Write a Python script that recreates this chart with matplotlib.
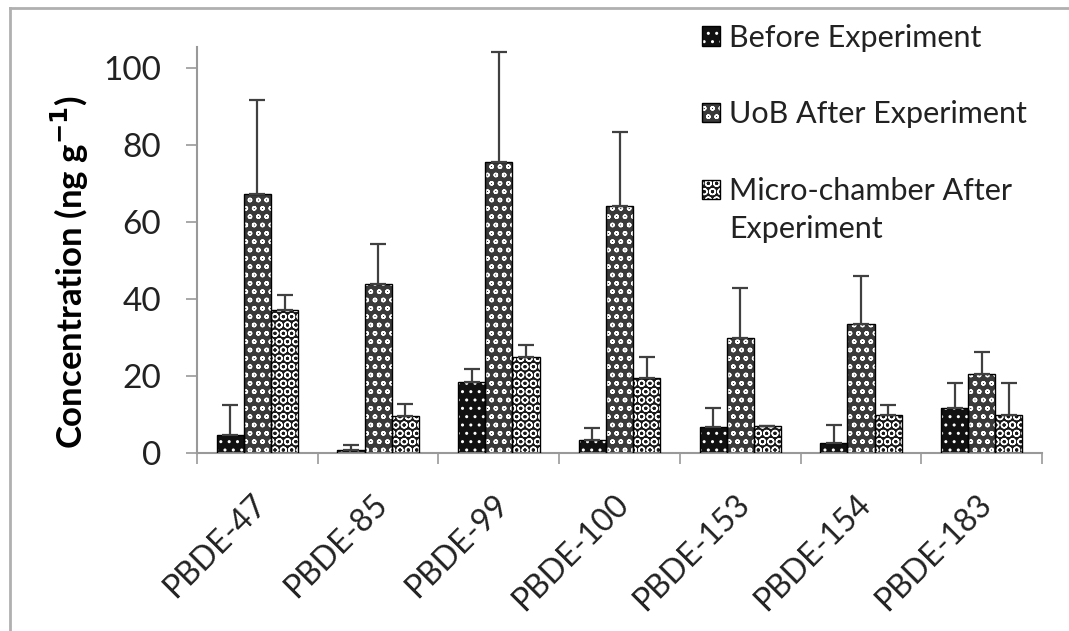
import matplotlib

matplotlib.use("Agg")
import matplotlib.pyplot as plt
import matplotlib.transforms as mtransforms
import numpy as np
from matplotlib.lines import Line2D
from matplotlib.patches import Patch

congeners = ["PBDE-47", "PBDE-85", "PBDE-99", "PBDE-100", "PBDE-153", "PBDE-154", "PBDE-183"]
series = ["Before Experiment", "UoB After Experiment", "Micro-chamber After"]
series_tail = "Experiment"  # second line of the last legend entry

before = [4.7, 0.8, 18.4, 3.5, 6.8, 2.5, 11.6]
before_err = [7.8, 1.2, 3.3, 2.9, 4.8, 4.8, 6.5]
uob = [67.3, 43.9, 75.6, 64.2, 29.8, 33.5, 20.4]
uob_err = [24.4, 10.4, 28.6, 19.1, 13.0, 12.5, 5.8]
micro = [37.1, 9.6, 25.0, 19.6, 7.1, 10.0, 10.0]
micro_err = [3.9, 3.1, 3.1, 5.4, 0.0, 2.6, 8.1]

plt.rcParams["font.family"] = ["Lato", "DejaVu Sans"]
plt.rcParams["hatch.linewidth"] = 1.0

fig = plt.figure(figsize=(10.69, 6.31), dpi=100)
ax = fig.add_axes([0.1843, 0.2821, 0.7905, 0.6434])

x = np.arange(len(congeners))
w = 0.225
styles = [("#111111", ".."), ("#3a3a3a", "oo"), ("#1a1a1a", "OO")]
handles = []
for i, (vals, errs) in enumerate([(before, before_err), (uob, uob_err), (micro, micro_err)]):
    face, hatch = styles[i]
    pos = x + (i - 1) * w
    ax.bar(pos, vals, w, color=face, edgecolor="white", hatch=hatch, lw=0, zorder=2)
    ax.bar(pos, vals, w, fill=False, edgecolor="black", lw=1.0, zorder=3)
    ax.errorbar(pos, vals, yerr=[np.zeros(len(errs)), errs], fmt="none",
                ecolor="#404040", elinewidth=1.6, capsize=6, capthick=1.6, zorder=4)
    handles.append((Patch(facecolor=face, edgecolor="white", hatch=hatch, lw=0),
                    Patch(fill=False, edgecolor="black", lw=1.0)))

ax.set_xlim(-0.5, len(congeners) - 0.5)
ax.set_ylim(0, 105.5)
ax.set_yticks(range(0, 101, 20))
ax.set_xticks(x)
ax.set_xticklabels(congeners, rotation=45, ha="right", rotation_mode="anchor",
                   fontsize=23, color="#222222")
ax.set_xticks(np.arange(-0.5, len(congeners)), minor=True)
ax.tick_params(axis="x", which="major", length=0, pad=26)
ax.tick_params(axis="x", which="minor", length=8, width=1.2, color="#999999")
ax.tick_params(axis="y", length=8, width=1.2, color="#999999", pad=18,
               labelsize=24, labelcolor="#222222")
# nudge rotated labels slightly left so their ends sit under the groups
shift = mtransforms.ScaledTranslation(-0.06, 0, fig.dpi_scale_trans)
for lab in ax.get_xticklabels():
    lab.set_transform(lab.get_transform() + shift)

for s in ["top", "right"]:
    ax.spines[s].set_visible(False)
for s in ["left", "bottom"]:
    ax.spines[s].set_color("#999999")
    ax.spines[s].set_linewidth(1.5)

fig.text(0.0655, 0.569, "Concentration (ng g$^{\\mathbf{-1}}$)", rotation=90,
         ha="center", va="center", fontsize=25, fontweight="bold")

leg = fig.legend(handles, series, loc="upper left", bbox_to_anchor=(0.645, 0.982),
                 frameon=False, fontsize=22, handlelength=0.6, handleheight=0.6,
                 handletextpad=0.3, labelspacing=1.6, borderaxespad=0)
for t in leg.get_texts():
    t.set_color("#222222")

# wrapped second line of the last entry, placed under its first line
fig.canvas.draw()
bb = leg.get_texts()[-1].get_window_extent()
fig.text(bb.x0 / fig.bbox.width, (bb.y0 - 38) / fig.bbox.height, series_tail,
         fontsize=22, color="#222222", ha="left", va="bottom")

# grey frame left and top, as in the source image
fig.add_artist(Line2D([0.0094, 0.0094], [0, 0.987], color="#b0b0b0", lw=2))
fig.add_artist(Line2D([0.0094, 1.0], [0.987, 0.987], color="#b0b0b0", lw=2))

fig.savefig("out.png", dpi=100)
